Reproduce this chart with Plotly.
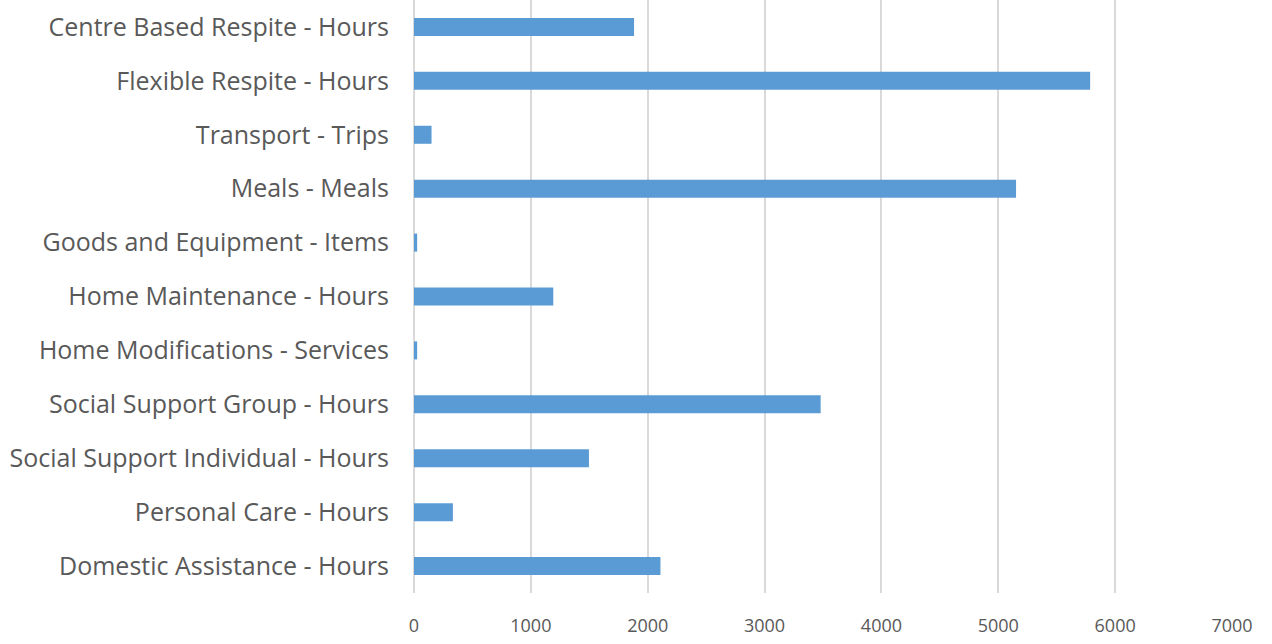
import plotly.graph_objects as go

categories = [
    "Domestic Assistance - Hours",
    "Personal Care - Hours",
    "Social Support Individual - Hours",
    "Social Support Group - Hours",
    "Home Modifications - Services",
    "Home Maintenance - Hours",
    "Goods and Equipment - Items",
    "Meals - Meals",
    "Transport - Trips",
    "Flexible Respite - Hours",
    "Centre Based Respite - Hours",
]
values = [2109, 333, 1497, 3480, 27, 1192, 27, 5152, 150, 5786, 1883]
x_ticks = [0, 1000, 2000, 3000, 4000, 5000, 6000, 7000]

fig = go.Figure(go.Bar(
    y=categories, x=values, orientation="h",
    marker=dict(color="#5B9BD5", line=dict(width=0)),
))

font_color = "#595959"
fig.update_layout(
    width=1272, height=644,
    margin=dict(l=414, r=40, t=0, b=51),
    paper_bgcolor="white", plot_bgcolor="white",
    bargap=0.666,
    showlegend=False,
    font=dict(family="Open Sans", size=17, color=font_color),
)
fig.update_xaxes(
    range=[0, 7000], tickvals=x_ticks, ticktext=[str(t) for t in x_ticks],
    showgrid=True, gridcolor="#d9d9d9", gridwidth=1.5,
    zeroline=True, zerolinecolor="#d9d9d9", zerolinewidth=1.5,
    showline=False, ticks="", ticklabelstandoff=20,
    tickfont=dict(size=18, color=font_color),
)
fig.update_yaxes(
    categoryorder="array", categoryarray=categories,
    showgrid=False, showline=False, ticks="", ticklabelstandoff=24,
    tickfont=dict(size=25, color=font_color),
)

fig.write_html("out.html")
